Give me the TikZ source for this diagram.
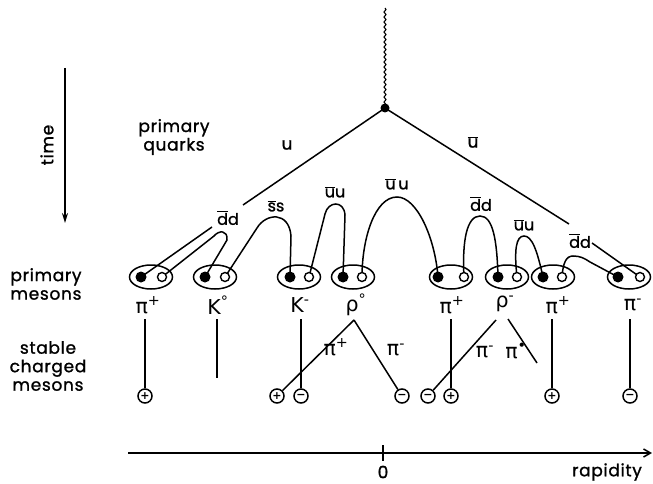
\documentclass[tikz,border=0pt]{standalone}
\usepackage{fontspec}
\setmainfont{Poppins}[FakeBold=1.2,LetterSpace=4]
\newfontfamily\gr{DejaVu Sans}
\usetikzlibrary{decorations.pathmorphing,arrows.meta,shapes.geometric}
\newcommand\qb[1]{\ensuremath{\overline{\mbox{#1}}}}
\begin{document}
\begin{tikzpicture}[x=1pt,y=-1pt,
  ln/.style={line width=1.5pt},
  fdot/.style={circle,fill=black,inner sep=0pt,minimum size=11pt},
  odot/.style={circle,draw=black,fill=white,line width=1.4pt,inner sep=0pt,minimum size=9pt},
  mes/.style={ellipse,draw,line width=1.5pt,minimum width=43pt,minimum height=24pt,inner sep=0pt},
  lbl/.style={font=\fontsize{17}{18.5}\selectfont,inner sep=0pt,align=center},
  qlbl/.style={font=\fontsize{16}{16}\selectfont,inner sep=0pt},
  mlbl/.style={font=\gr\fontsize{20.5}{20.5}\selectfont,inner sep=0pt},
  chg/.style={circle,draw,fill=white,line width=1.5pt,minimum size=14pt,inner sep=0pt,font=\gr\bfseries\fontsize{11}{11}\selectfont}
]
\useasboundingbox (0,0) rectangle (653,484);

% ---- primary vertex
\coordinate (top) at (385,8);
\coordinate (vtx) at (385,108);
\draw[decorate,decoration={snake,amplitude=1pt,segment length=5pt},line width=1.1pt] (top) -- (vtx);
\node[circle,fill=black,inner sep=0pt,minimum size=9pt] (vdot) at (vtx) {};

% ---- left labels
\node[lbl,rotate=90] (time) at (47,145) {time};
\coordinate (ta) at (65,68);
\coordinate (tb) at (65,223);
\draw[ln,-{Stealth[length=10pt,width=6pt]}] (ta) -- (tb);
\node[lbl] (pq) at (174,137) {primary\\quarks};
\node[lbl] (pm) at (46,284) {primary\\mesons};
\node[lbl] (sc) at (48,366) {stable\\charged\\mesons};

% ---- meson ellipses
\node[mes] (m1) at (151,277) {};
\node[mes] (m2) at (215,277) {};
\node[mes] (m3) at (299,277) {};
\node[mes] (m4) at (353,277) {};
\node[mes] (m5) at (451,277) {};
\node[mes] (m6) at (507,277) {};
\node[mes] (m7) at (553,277) {};
\node[mes] (m8) at (629,277) {};

% quark dots (coordinates)
\coordinate (f1) at (141,277); \coordinate (o1) at (162,277);
\coordinate (f2) at (205,277); \coordinate (o2) at (225,277);
\coordinate (f3) at (290,277); \coordinate (o3) at (309,277);
\coordinate (f4) at (343,277); \coordinate (o4) at (362,277);
\coordinate (f5) at (438,277); \coordinate (o5) at (464,277);
\coordinate (f6) at (498,277); \coordinate (o6) at (517,277);
\coordinate (f7) at (543,277); \coordinate (o7) at (562,277);
\coordinate (f8) at (618,277); \coordinate (o8) at (640,277);

% primary quark lines
\coordinate (ua) at (243,205); \coordinate (ub) at (212,227);
\draw[ln] (vtx) -- (ua);
\draw[ln] (ub) -- (f1);
\coordinate (va) at (569,224); \coordinate (vb) at (592,243);
\draw[ln] (vtx) -- (va);
\draw[ln] (vb) -- (o8);
\node[lbl] (lu) at (287,145) {u};
\node[lbl] (lub) at (473,142) {\qb{u}};

% string-break arches
\draw[ln] (o1) -- (214,236) .. controls (219,230) and (228,230) .. (227,240) -- (f2);
\draw[ln] (o2) -- (257,228) .. controls (266,213) and (289,211) .. (291,236) -- (f3);
\draw[ln] (o3) -- (325,214) .. controls (328,201) and (344,200) .. (345,215) -- (f4);
\draw[ln] (o4) .. controls (362,238) and (375,197) .. (397,197) .. controls (417,197) and (435,238) .. (f5);
\draw[ln] (o5) .. controls (462,240) and (467,216) .. (480,216) .. controls (493,216) and (497,240) .. (f6);
\draw[ln] (o6) .. controls (514,250) and (516,236) .. (524,236) .. controls (532,236) and (537,250) .. (f7);
\draw[ln] (o7) .. controls (563,263) and (566,256) .. (573,256) .. controls (580,256) and (584,258) .. (590,262) -- (f8);

\node[qlbl] (q1) at (228,218) {\qb{d}d};
\node[qlbl] (q2) at (276,206) {\qb{s}s};
\node[qlbl] (q3) at (335,192) {\qb{u}u};
\node[qlbl] (q4) at (397,184) {\qb{u}\,u};
\node[qlbl] (q5) at (481,204) {\qb{d}d};
\node[qlbl] (q6) at (524,225) {\qb{u}u};
\node[qlbl] (q7) at (580,241) {\qb{d}d};

% dots on top
\foreach \i in {1,...,8} {
  \node[fdot] at (f\i) {};
  \node[odot] at (o\i) {};
}

% ---- meson names
\node[mlbl] (n1) at (148,305) {π\textsuperscript{+}};
\node[mlbl] (n2) at (218,305) {K\textsuperscript{°}};
\node[mlbl] (n3) at (300,305) {K\textsuperscript{-}};
\node[mlbl] (n4) at (356,305) {ρ\textsuperscript{°}};
\node[mlbl] (n5) at (452,305) {π\textsuperscript{+}};
\node[mlbl] (n6) at (505,304) {ρ\textsuperscript{-}};
\node[mlbl] (n7) at (558,305) {π\textsuperscript{+}};
\node[mlbl] (n8) at (633,305) {π\textsuperscript{-}};

% ---- charges
\node[chg] (c1) at (145,396) {+};
\node[chg] (c2) at (277,396) {+};
\node[chg] (c3) at (301,396) {−};
\node[chg] (c4) at (402,396) {−};
\node[chg] (c5) at (428,396) {−};
\node[chg] (c6) at (451,396) {+};
\node[chg] (c7) at (552,396) {+};
\node[chg] (c8) at (630,396) {−};

% decay lines
\coordinate (d1) at (145,319);
\coordinate (d2) at (217,319); \coordinate (d2e) at (217,378);
\coordinate (d3) at (301,319);
\coordinate (d4) at (354,320);
\coordinate (d5) at (451,319);
\coordinate (d6) at (496,320); \coordinate (d6r) at (508,319); \coordinate (d6e) at (537,363);
\coordinate (d7) at (552,319);
\coordinate (d8) at (630,319);
\draw[ln] (d1) -- (c1);
\draw[ln] (d2) -- (d2e);
\draw[ln] (d3) -- (c3);
\draw[ln] (d4) -- (c2);
\draw[ln] (d4) -- (c4);
\draw[ln] (d5) -- (c6);
\draw[ln] (d6) -- (c5);
\draw[ln] (d6r) -- (d6e);
\draw[ln] (d7) -- (c7);
\draw[ln] (d8) -- (c8);

\node[mlbl] (p1) at (336,347) {π\textsuperscript{+}};
\node[mlbl] (p2) at (396,350) {π\textsuperscript{-}};
\node[mlbl] (p3) at (485,352) {π\textsuperscript{-}};
\node[mlbl] (p4) at (516,351) {π\textsuperscript{•}};

% ---- rapidity axis
\coordinate (ax0) at (128,453);
\coordinate (ax1) at (652,453);
\draw[ln,-{Straight Barb[length=7pt,width=8pt]}] (ax0) -- (ax1);
\coordinate (tk0) at (383,445); \coordinate (tk1) at (383,461);
\draw[ln] (tk0) -- (tk1);
\node[lbl] (zero) at (383,472) {0};
\node[lbl] (rap) at (607,472) {rapidity};
\end{tikzpicture}
\end{document}
